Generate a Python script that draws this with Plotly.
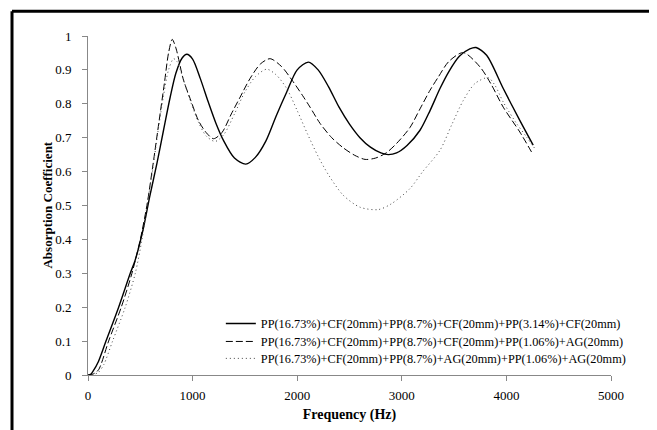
import plotly.graph_objects as go

# frequency (Hz) / absorption coefficient
freq_1 = [0, 25, 50, 100, 172, 293, 404, 450, 525, 589, 659, 722, 786, 840, 900, 945, 1000,
          1073, 1150, 1220, 1295, 1400, 1509, 1600, 1700, 1800, 1900, 2000, 2107, 2200, 2300,
          2400, 2500, 2600, 2700, 2800, 2871, 2950, 3050, 3174, 3270, 3365, 3450, 3550, 3650,
          3710, 3811, 3970, 4128, 4256]
alpha_1 = [0, 0.002, 0.012, 0.04, 0.1, 0.2, 0.3, 0.338, 0.427, 0.525, 0.624, 0.722, 0.82, 0.89,
           0.935, 0.946, 0.932, 0.875, 0.805, 0.745, 0.692, 0.64, 0.622, 0.642, 0.69, 0.765,
           0.835, 0.9, 0.923, 0.9, 0.85, 0.79, 0.74, 0.7, 0.672, 0.655, 0.65, 0.655, 0.677,
           0.722, 0.78, 0.845, 0.895, 0.94, 0.962, 0.966, 0.943, 0.845, 0.751, 0.678]

freq_2 = [0, 50, 100, 197, 318, 420, 500, 563, 621, 680, 730, 770, 805, 840, 913, 977, 1057,
          1130, 1200, 1280, 1370, 1455, 1550, 1650, 1741, 1850, 1950, 2050, 2123, 2219, 2330,
          2441, 2550, 2649, 2750, 2850, 2950, 3078, 3174, 3270, 3349, 3450, 3588, 3747, 3850,
          3970, 4128, 4240]
alpha_2 = [0, 0.003, 0.015, 0.1, 0.2, 0.3, 0.4, 0.5, 0.62, 0.75, 0.86, 0.95, 0.99, 0.965, 0.87,
           0.815, 0.75, 0.715, 0.697, 0.715, 0.77, 0.82, 0.875, 0.918, 0.933, 0.91, 0.87, 0.825,
           0.79, 0.742, 0.7, 0.67, 0.648, 0.636, 0.64, 0.655, 0.683, 0.73, 0.785, 0.84, 0.879,
           0.925, 0.951, 0.909, 0.86, 0.79, 0.717, 0.658]

freq_3 = [0, 50, 100, 150, 235, 356, 452, 516, 565, 620, 670, 720, 770, 818, 850, 913, 977,
          1057, 1130, 1216, 1300, 1400, 1500, 1600, 1709, 1800, 1900, 2000, 2100, 2200, 2300,
          2441, 2600, 2776, 2900, 3078, 3200, 3365, 3480, 3588, 3700, 3826, 3890, 3970, 4097,
          4193, 4272]
alpha_3 = [0, 0.001, 0.008, 0.03, 0.1, 0.2, 0.3, 0.4, 0.5, 0.61, 0.72, 0.82, 0.9, 0.933, 0.925,
           0.87, 0.81, 0.745, 0.705, 0.689, 0.71, 0.77, 0.835, 0.88, 0.902, 0.885, 0.845, 0.78,
           0.71, 0.645, 0.59, 0.53, 0.495, 0.488, 0.505, 0.55, 0.6, 0.663, 0.74, 0.81, 0.86,
           0.877, 0.855, 0.805, 0.742, 0.702, 0.668]

names = [
    "PP(16.73%)+CF(20mm)+PP(8.7%)+CF(20mm)+PP(3.14%)+CF(20mm)",
    "PP(16.73%)+CF(20mm)+PP(8.7%)+CF(20mm)+PP(1.06%)+AG(20mm)",
    "PP(16.73%)+CF(20mm)+PP(8.7%)+AG(20mm)+PP(1.06%)+AG(20mm)",
]

x_ticks = [0, 1000, 2000, 3000, 4000, 5000]
y_ticks = [0, 0.1, 0.2, 0.3, 0.4, 0.5, 0.6, 0.7, 0.8, 0.9, 1]

serif = "Liberation Serif, Times New Roman, serif"

fig = go.Figure()
fig.add_trace(go.Scatter(x=freq_1, y=alpha_1, name=names[0], mode="lines", legend="legend",
                         line=dict(color="black", width=1.4, shape="spline", smoothing=0.8)))
fig.add_trace(go.Scatter(x=freq_2, y=alpha_2, name=names[1], mode="lines", legend="legend2",
                         line=dict(color="black", width=1, dash="7px,3px", shape="spline", smoothing=0.8)))
fig.add_trace(go.Scatter(x=freq_3, y=alpha_3, name=names[2], mode="lines", legend="legend3",
                         line=dict(color="#444444", width=1, dash="1px,3px", shape="spline", smoothing=0.8)))

axis_style = dict(showgrid=False, zeroline=False, showline=True, linecolor="#888888", linewidth=1,
                  ticks="outside", tickcolor="#888888", ticklen=5,
                  tickfont=dict(family=serif, size=13, color="black"))

fig.update_xaxes(range=[0, 5000], tickvals=x_ticks, ticklabelstandoff=3,
                 title=dict(text="<b>Frequency (Hz)</b>", font=dict(family=serif, size=14, color="black"),
                            standoff=7),
                 **axis_style)
fig.update_yaxes(range=[0, 1], tickvals=y_ticks, ticktext=[str(v) for v in y_ticks], ticklabelstandoff=8,
                 **axis_style)

# y title as a rotated annotation so it sits where the original one does
fig.add_annotation(text="<b>Absorption Coefficient</b>", xref="paper", yref="paper", x=-0.0783, y=0.5,
                   xanchor="center", yanchor="middle", textangle=-90, showarrow=False,
                   font=dict(family=serif, size=13, color="black"))

# frame of the original figure (left and top edges visible)
fig.add_shape(type="line", xref="paper", yref="paper", x0=-0.1453, x1=-0.1453, y0=-0.3, y1=1.0729,
              line=dict(color="black", width=3))
fig.add_shape(type="line", xref="paper", yref="paper", x0=-0.1453, x1=1.2, y0=1.0729, y1=1.0729,
              line=dict(color="black", width=3))

legend_style = dict(x=0.254, xanchor="left", yanchor="middle", bgcolor="rgba(0,0,0,0)",
                    font=dict(family=serif, size=12.3, color="black"))

fig.update_layout(
    width=657,
    height=430,
    autosize=False,
    margin=dict(l=80, r=54, t=28, b=63),
    paper_bgcolor="white",
    plot_bgcolor="white",
    font=dict(family=serif, color="black"),
    showlegend=True,
    legend=dict(y=0.152, **legend_style),
    legend2=dict(y=0.099, **legend_style),
    legend3=dict(y=0.049, **legend_style),
)

fig.write_html("out.html")
